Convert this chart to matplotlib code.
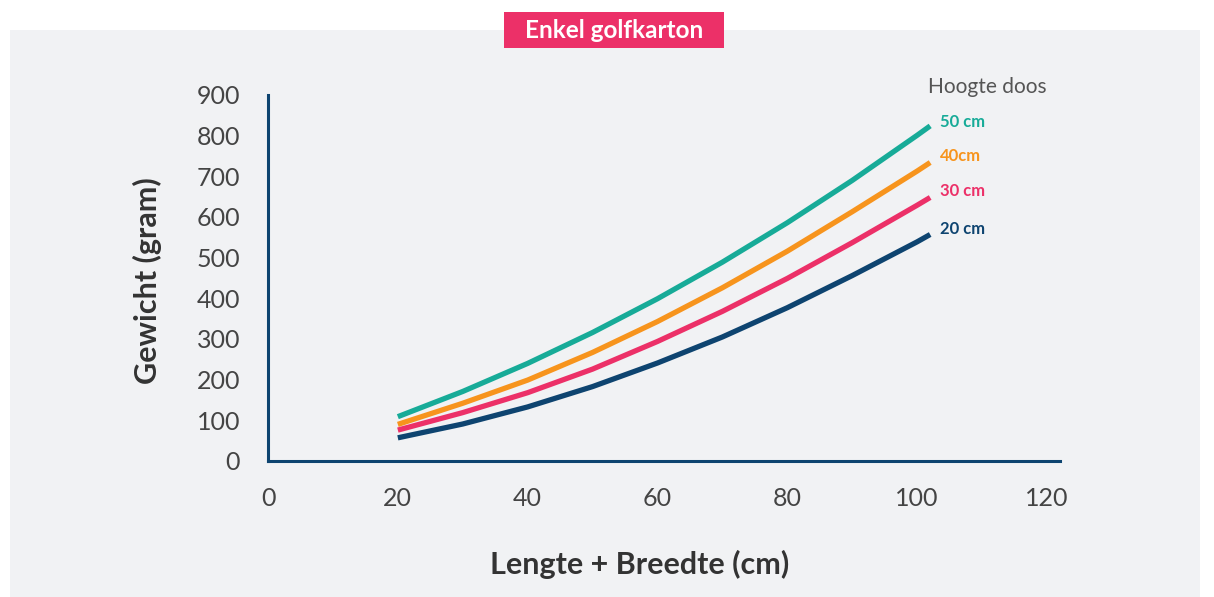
import matplotlib
matplotlib.use("Agg")
import matplotlib.pyplot as plt
from matplotlib.patches import Rectangle

# Data
lengte_breedte = [20, 30, 40, 50, 60, 70, 80, 90, 100, 102]
gewicht_50 = [109, 171, 240, 316, 399, 489, 586, 690, 801, 824]
gewicht_40 = [90, 142, 199, 267, 343, 426, 516, 613, 713, 734]
gewicht_30 = [76, 119, 168, 226, 294, 368, 449, 537, 629, 648]
gewicht_20 = [57, 91, 133, 183, 241, 305, 377, 456, 539, 557]
series_labels = ["50 cm", "40cm", "30 cm", "20 cm"]
x_ticks = [0, 20, 40, 60, 80, 100, 120]
y_ticks = [0, 100, 200, 300, 400, 500, 600, 700, 800, 900]

colors = ["#17ab98", "#f7941d", "#ec3068", "#0e4470"]
navy = "#0e4470"
W, H = 1214, 597

fig = plt.figure(figsize=(W / 100, H / 100), dpi=100)
fig.patch.set_facecolor("white")
# gray panel
fig.patches.append(Rectangle((10 / W, 0), (1200 - 10) / W, (H - 30) / H,
                             transform=fig.transFigure, facecolor="#f1f2f4",
                             edgecolor="none", zorder=-5))
# title box
fig.patches.append(Rectangle((504 / W, 1 - 48 / H), 220 / W, 36 / H,
                             transform=fig.transFigure, facecolor="#ec3068",
                             edgecolor="none", zorder=-4))
fig.text(614 / W, 1 - 31 / H, "Enkel golfkarton", color="white", fontsize=17.5,
         fontweight="bold", family="Lato", ha="center", va="center", zorder=2)

ax = fig.add_axes([268 / W, 1 - 461 / H, (1060 - 268) / W, (461 - 95) / H])
ax.set_zorder(3)
ax.set_facecolor("none")
ax.set_xlim(0, 122)
ax.set_ylim(0, 900)

for ys, c in zip([gewicht_50, gewicht_40, gewicht_30, gewicht_20], colors):
    ax.plot(lengte_breedte, ys, color=c, lw=3.8, solid_capstyle="butt",
            solid_joinstyle="round", clip_on=False)

for s in ["top", "right"]:
    ax.spines[s].set_visible(False)
for s in ["left", "bottom"]:
    ax.spines[s].set_color(navy)
    ax.spines[s].set_linewidth(2.2)

ax.set_xticks(x_ticks)
ax.set_yticks(y_ticks)
ax.set_xticklabels([str(v) for v in x_ticks])
ax.set_yticklabels([str(v) for v in y_ticks])
ax.tick_params(axis="x", length=0, pad=19, labelsize=18, labelcolor="#444444")
ax.tick_params(axis="y", length=0, pad=20, labelsize=18, labelcolor="#444444")
for lab in ax.get_xticklabels() + ax.get_yticklabels():
    lab.set_fontfamily("Lato")
    lab.set_fontweight("normal")

fig.text(147 / W, 1 - 281 / H, "Gewicht (gram)", rotation=90, fontsize=22,
         fontweight="bold", family="Lato", color="#333333", ha="center", va="center")
fig.text(640 / W, 1 - 564 / H, "Lengte + Breedte (cm)", fontsize=22,
         fontweight="bold", family="Lato", color="#333333", ha="center", va="center")

fig.text(987 / W, 1 - 87 / H, "Hoogte doos", fontsize=15, fontweight="normal",
         family="Lato", color="#555555", ha="center", va="center")
label_y = [122, 156, 191, 229]
for lab, c, yy in zip(series_labels, colors, label_y):
    fig.text(940 / W, 1 - yy / H, lab, fontsize=12, fontweight="bold",
             family="Lato", color=c, ha="left", va="center")

fig.savefig("out.png", dpi=100, facecolor=fig.get_facecolor())
